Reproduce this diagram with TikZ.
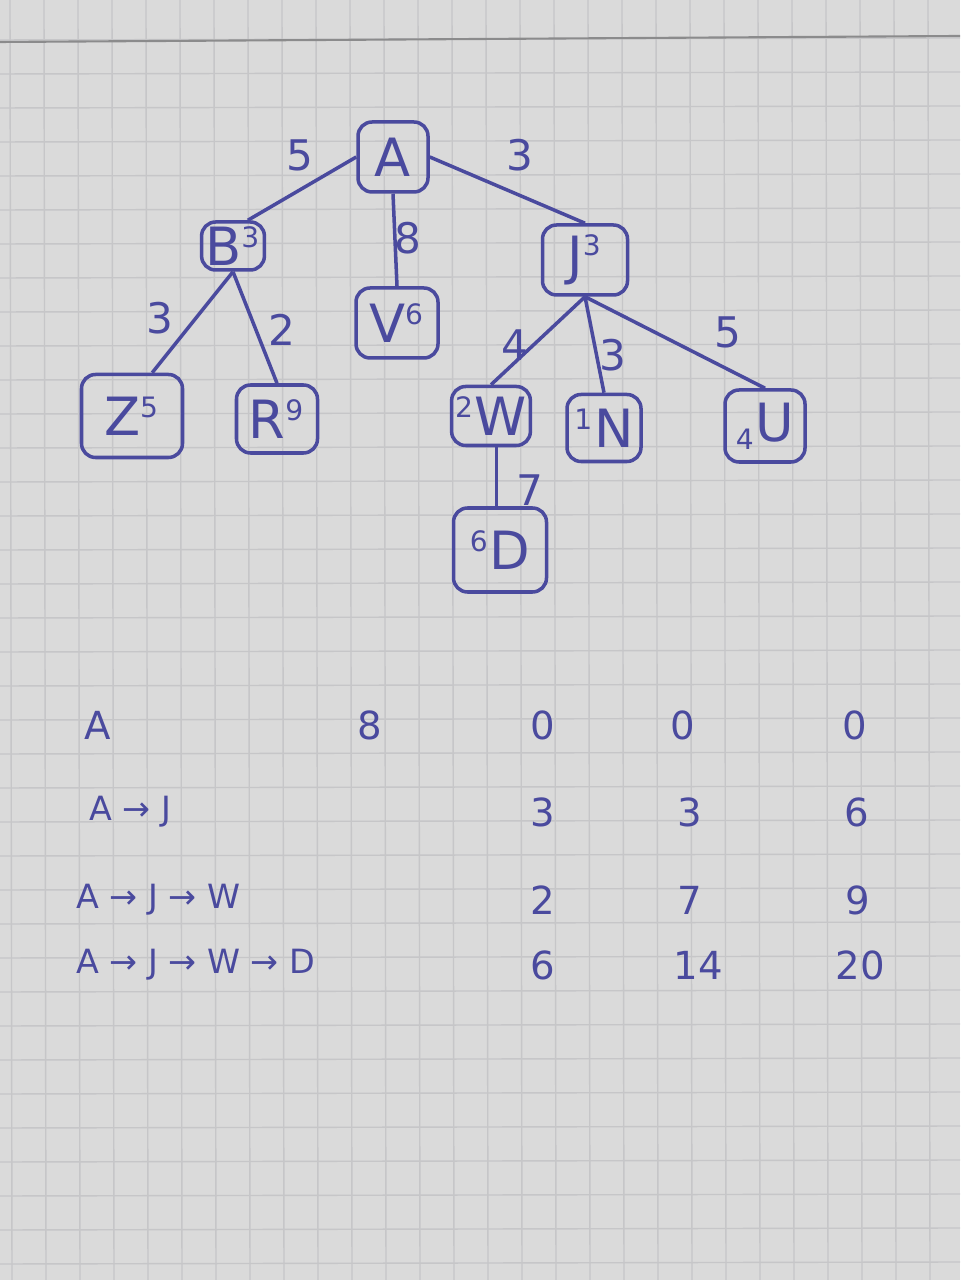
\documentclass[tikz,border=0pt]{standalone}
\usepackage{fontspec}
\setmainfont{DejaVu Sans}
\definecolor{ink}{HTML}{4A4A9E}
\definecolor{paper}{HTML}{DADADA}
\definecolor{gridc}{HTML}{C6C6C8}
\newcommand{\hi}[1]{\textsuperscript{\fontsize{8}{9}\selectfont #1}}
\newcommand{\lo}[1]{\textsubscript{\fontsize{8}{9}\selectfont #1}}
\tikzset{
  box/.style={draw=ink, line width=1pt, rounded corners=4pt, text=ink, font=\fontsize{15}{17}\selectfont, inner sep=1pt},
  edge/.style={draw=ink, line width=1pt},
  wt/.style={text=ink, font=\fontsize{12}{14}\selectfont, inner sep=1pt},
  tab/.style={text=ink, font=\fontsize{11}{13}\selectfont, inner sep=1pt},
  path/.style={text=ink, font=\fontsize{9.5}{11}\selectfont, inner sep=1pt}
}
\begin{document}
\begin{tikzpicture}[x=1cm,y=-1cm]
\fill[paper] (0,0) rectangle (9.6,12.8);
\useasboundingbox (0,0) rectangle (9.6,12.8);
\foreach \i in {0,...,28} {\draw[gridc, line width=0.4pt] ({0.1+\i*0.34},0) -- ({0.12+\i*0.34},12.8);}
\foreach \j in {0,...,37} {\draw[gridc, line width=0.4pt] (0,{0.4+\j*0.34}) -- (9.6,{0.38+\j*0.34});}
\draw[color=gridc!70!black, line width=0.6pt] (0,0.42) -- (9.6,0.36);

% nodes
\node[box, minimum width=0.70cm, minimum height=0.70cm] (A) at (3.93,1.57) {A};
\node[box, minimum width=0.57cm, minimum height=0.48cm] (B) at (2.33,2.46) {B\hi{3}};
\node[box, minimum width=0.82cm, minimum height=0.70cm] (V) at (3.97,3.23) {V\hi{6}};
\node[box, minimum width=0.85cm, minimum height=0.70cm] (J) at (5.85,2.60) {J\hi{3}};
\node[box, minimum width=1.01cm, minimum height=0.83cm] (Z) at (1.32,4.16) {Z\hi{5}};
\node[box, minimum width=0.81cm, minimum height=0.68cm] (R) at (2.77,4.19) {R\hi{9}};
\node[box, minimum width=0.78cm, minimum height=0.59cm] (W) at (4.91,4.16) {\hi{2}W};
\node[box, minimum width=0.74cm, minimum height=0.67cm] (N) at (6.04,4.28) {\hi{1}N};
\node[box, minimum width=0.80cm, minimum height=0.72cm] (U) at (7.65,4.26) {\lo{4}U};
\node[box, minimum width=0.93cm, minimum height=0.84cm] (D) at (5.00,5.50) {\hi{6}D};

% edges
\draw[edge] (A.west) -- (B.60);
\draw[edge] (A.south) -- (V.north);
\draw[edge] (A.east) -- (J.north);
\draw[edge] (B.south) -- (Z.65);
\draw[edge] (B.south) -- (R.north);
\draw[edge] (J.south) -- (W.north);
\draw[edge] (J.south) -- (N.north);
\draw[edge] (J.south) -- (U.north);
\draw[edge] ([xshift=1.5pt]W.south) -- ([xshift=1.5pt]W.south |- D.north);

% weights
\node[wt] (wAB) at (3.00,1.55) {5};
\node[wt] (wAV) at (4.08,2.38) {8};
\node[wt] (wAJ) at (5.20,1.55) {3};
\node[wt] (wBZ) at (1.60,3.18) {3};
\node[wt] (wBR) at (2.82,3.30) {2};
\node[wt] (wJW) at (5.15,3.45) {4};
\node[wt] (wJN) at (6.13,3.55) {3};
\node[wt] (wJU) at (7.28,3.32) {5};
\node[wt] (wWD) at (5.30,4.90) {7};

% table
\node[tab, anchor=west] (r1) at (0.80,7.25) {A};
\node[tab] (r1a) at (3.70,7.25) {8};
\node[tab] (r1b) at (5.43,7.25) {0};
\node[tab] (r1c) at (6.83,7.25) {0};
\node[tab] (r1d) at (8.55,7.25) {0};
\node[path, anchor=west] (r2) at (0.85,8.12) {A → J};
\node[tab] (r2b) at (5.43,8.12) {3};
\node[tab] (r2c) at (6.90,8.12) {3};
\node[tab] (r2d) at (8.57,8.12) {6};
\node[path, anchor=west] (r3) at (0.72,9.00) {A → J → W};
\node[tab] (r3b) at (5.43,9.00) {2};
\node[tab] (r3c) at (6.90,9.00) {7};
\node[tab] (r3d) at (8.58,9.00) {9};
\node[path, anchor=west] (r4) at (0.72,9.65) {A → J → W → D};
\node[tab] (r4b) at (5.43,9.65) {6};
\node[tab] (r4c) at (6.98,9.65) {14};
\node[tab] (r4d) at (8.60,9.65) {20};
\end{tikzpicture}
\end{document}
